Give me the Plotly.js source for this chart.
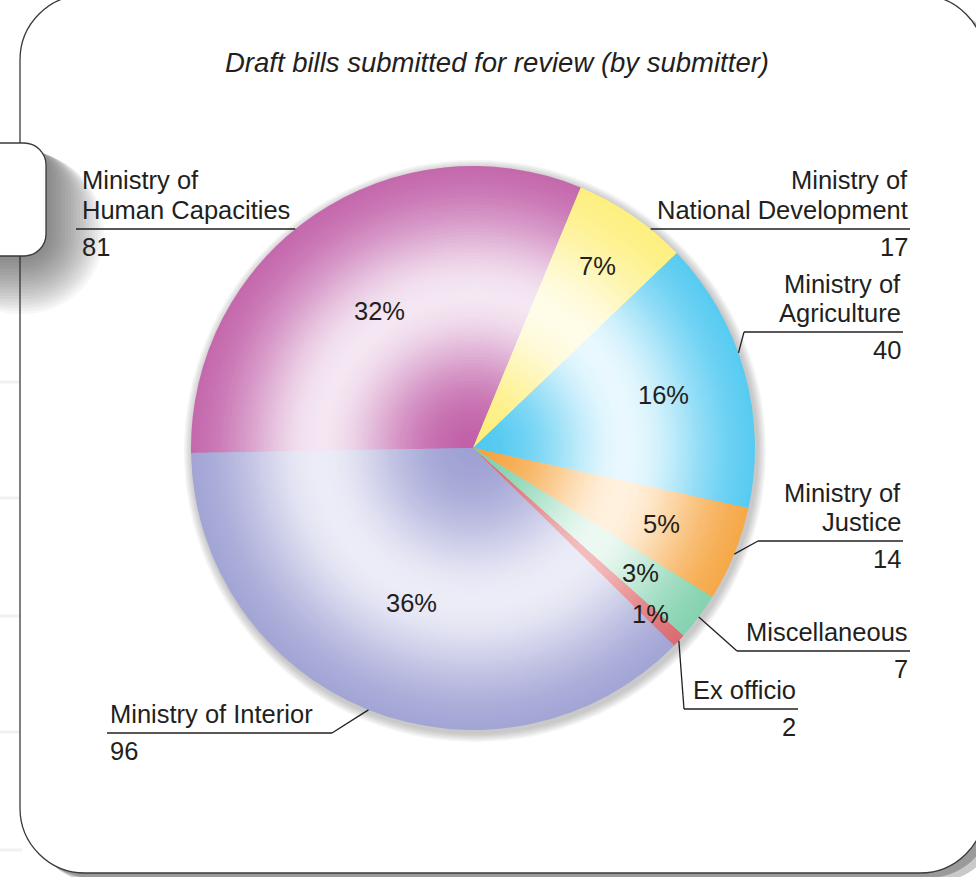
<!DOCTYPE html>
<html><head><meta charset="utf-8">
<script src="https://cdn.plot.ly/plotly-3.0.1.min.js"></script>
<style>html,body{margin:0;padding:0;background:#fff;overflow:hidden}#chart{width:976px;height:877px}</style>
</head><body><div id="chart"></div>
<script>
// ---------- data ----------
const categories = ['Ministry of Human Capacities','Ministry of National Development','Ministry of Agriculture','Ministry of Justice','Miscellaneous','Ex officio','Ministry of Interior'];
const labelLines = [['Ministry of','Human Capacities'],['Ministry of','National Development'],['Ministry of','Agriculture'],['Ministry of','Justice'],['Miscellaneous'],['Ex officio'],['Ministry of Interior']];
const billCounts = [81,17,40,14,7,2,96];
const percentLabels = ['32%','7%','16%','5%','3%','1%','36%'];
const titleText = 'Draft bills submitted for review (by submitter)';

// ---------- styles ----------
const baseColors  = ['#bf5aa5','#fdee74','#48c6f0','#f4a038','#7acea9','#d8646a','#9a9dd1'];
const lightColors = ['#f4e6f2','#fffce8','#e8f8fe','#fff1de','#ecf9f2','#f3bcbc','#ececf7'];
const TXT = '#231f20';
const FONT = 'Liberation Sans, Arial, Helvetica, sans-serif';

// ---------- layout (pixels) ----------
const W = 976, H = 877;
const CX = 473, CY = 448, R = 282;
const START_DEG = 269;
const pctRadius = [0.59,0.78,0.70,0.72,0.74,0.86,0.59];
const labelX = [80,910,903,903,910,798,108];
const labelSide = ['left','right','right','right','right','right','left'];
const underlineY = [229,229,332,541,651,709,733];
const elbowX = [null,null,744,758,737,684,332];
const leaderShift = [0,0,-4,0,0,0,0];

const px = v => v / W;
const py = v => 1 - v / H;

function mix(a, b, t) {
  const pa = [1,3,5].map(i => parseInt(a.substr(i,2),16));
  const pb = [1,3,5].map(i => parseInt(b.substr(i,2),16));
  return 'rgb(' + pa.map((v,i) => Math.round(v + (pb[i]-v)*t)).join(',') + ')';
}

// slice angles (deg, clockwise from 12 o'clock)
const total = billCounts.reduce((s,v)=>s+v,0);
const midAngles = [];
{ let acc = START_DEG; billCounts.forEach(v => { const span = v/total*360; midAngles.push(acc + span/2); acc += span; }); }
const polar = (deg, r) => { const t = deg*Math.PI/180; return [CX + r*Math.sin(t), CY - r*Math.cos(t)]; };

// ---------- traces: stacked pies for radial shading ----------
const traces = [];
const N = 80;
for (let k = 0; k < N; k++) {
  const f = 1 - k * (0.97/(N-1));
  const w = Math.exp(-Math.pow((f-0.55)/0.3, 2));
  traces.push({
    type: 'pie', values: billCounts, labels: categories, sort: false,
    direction: 'clockwise', rotation: START_DEG,
    marker: { colors: baseColors.map((c,i)=>mix(c, lightColors[i], w)), line: { width: 0 } },
    textinfo: 'none', hoverinfo: 'skip', showlegend: false,
    domain: { x: [px(CX - f*R), px(CX + f*R)], y: [py(CY + f*R), py(CY - f*R)] }
  });
}

// ---------- shapes ----------
function rrect(x0, y0, x1, y1, r) {
  const k = 0.5523 * r;
  const P = (x, y) => px(x).toFixed(5) + ',' + py(y).toFixed(5);
  return 'M' + P(x0+r, y0) + ' L' + P(x1-r, y0) +
    ' C' + P(x1-r+k, y0) + ' ' + P(x1, y0+r-k) + ' ' + P(x1, y0+r) +
    ' L' + P(x1, y1-r) +
    ' C' + P(x1, y1-r+k) + ' ' + P(x1-r+k, y1) + ' ' + P(x1-r, y1) +
    ' L' + P(x0+r, y1) +
    ' C' + P(x0+r-k, y1) + ' ' + P(x0, y1-r+k) + ' ' + P(x0, y1-r) +
    ' L' + P(x0, y0+r) +
    ' C' + P(x0, y0+r-k) + ' ' + P(x0+r-k, y0) + ' ' + P(x0+r, y0) + ' Z';
}
const shapes = [];
// faint background rules left of the frame
[382, 498, 616, 732, 850].forEach(y => shapes.push({type:'line', xref:'paper', yref:'paper', x0:px(0), x1:px(22), y0:py(y), y1:py(y), line:{color:'#f0f0f0', width:3}, layer:'below'}));
// frame shadow
shapes.push({type:'path', xref:'paper', yref:'paper', path: rrect(32, 8, 1000, 882, 65), fillcolor:'#c9c9c9', line:{width:0}, layer:'below'});
shapes.push({type:'path', xref:'paper', yref:'paper', path: rrect(27, 3, 993, 878, 65), fillcolor:'#9a9a9a', line:{width:0}, layer:'below'});
// main frame
shapes.push({type:'path', xref:'paper', yref:'paper', path: rrect(20, -5, 985, 873, 65), fillcolor:'#ffffff', line:{color:'#3a3a3a', width:1.3}, layer:'below'});
// small tab shadow
for (let s = 20; s >= 1; s--) {
  const e = s * 3;
  shapes.push({type:'path', xref:'paper', yref:'paper', path: rrect(-60, 146 + s*0.3, 44 + e, 254 + e, 20 + e), fillcolor:'rgba(50,50,50,0.04)', line:{width:0}, layer:'below'});
}
// small tab
shapes.push({type:'path', xref:'paper', yref:'paper', path: rrect(-60, 143, 46, 256, 22), fillcolor:'#ffffff', line:{color:'#3a3a3a', width:1.3}, layer:'below'});
// pie shadow
for (let s = 6; s >= 1; s--) {
  const rr = R + s*1.5;
  shapes.push({type:'circle', xref:'paper', yref:'paper', x0:px(CX+2-rr), x1:px(CX+2+rr), y0:py(CY+3+rr), y1:py(CY+3-rr), fillcolor:'rgba(90,90,90,0.06)', line:{width:0}, layer:'below'});
}
// leader lines + underlines
labelLines.forEach((lines, i) => {
  const uy = underlineY[i];
  let xa, xb;
  if (elbowX[i] === null) {
    const dx = Math.sqrt(R*R - (uy-CY)*(uy-CY));
    const rim = labelSide[i] === 'left' ? CX - dx : CX + dx;
    xa = labelSide[i] === 'left' ? labelX[i] - 4 : rim;
    xb = labelSide[i] === 'left' ? rim : labelX[i];
  } else {
    xa = labelSide[i] === 'left' ? labelX[i] - 1 : elbowX[i];
    xb = labelSide[i] === 'left' ? elbowX[i] : labelX[i];
    const end = polar(midAngles[i] + leaderShift[i], R);
    shapes.push({type:'line', xref:'paper', yref:'paper', x0:px(elbowX[i]), y0:py(uy), x1:px(end[0]), y1:py(end[1]), line:{color:TXT, width:1.3}, layer:'above'});
  }
  shapes.push({type:'line', xref:'paper', yref:'paper', x0:px(xa), y0:py(uy), x1:px(xb), y1:py(uy), line:{color:TXT, width:1.3}, layer:'above'});
});

// ---------- annotations ----------
const annotations = [];
const LS = 25.5;
labelLines.forEach((lines, i) => {
  const n = lines.length;
  lines.forEach((t, j) => {
    annotations.push({text: t, xref:'paper', yref:'paper', x: px(labelX[i]), y: py(underlineY[i] - 19 - (n-1-j)*29.5),
      xanchor: labelSide[i], yanchor:'middle', showarrow:false, font:{family:FONT, size:LS, color:TXT}});
  });
  annotations.push({text: String(billCounts[i]), xref:'paper', yref:'paper', x: px(labelX[i]), y: py(underlineY[i] + 18),
    xanchor: labelSide[i], yanchor:'middle', showarrow:false, font:{family:FONT, size:LS, color:TXT}});
});
percentLabels.forEach((t, i) => {
  const p = polar(midAngles[i], pctRadius[i]*R);
  annotations.push({text: t, xref:'paper', yref:'paper', x: px(p[0]), y: py(p[1]), xanchor:'center', yanchor:'middle',
    showarrow:false, font:{family:FONT, size:LS, color:TXT}});
});

const layout = {
  width: W, height: H,
  margin: {l:0, r:0, t:0, b:0},
  paper_bgcolor: '#ffffff', plot_bgcolor: '#ffffff',
  showlegend: false,
  title: {text: '<i>' + titleText + '</i>', font:{family:FONT, size:27.5, color:TXT}, x: 497/W, xanchor:'center', xref:'paper', y: py(62), yanchor:'middle', yref:'paper'},
  shapes: shapes,
  annotations: annotations
};
Plotly.newPlot('chart', traces, layout, {staticPlot:true, displayModeBar:false});
</script>
</body></html>
